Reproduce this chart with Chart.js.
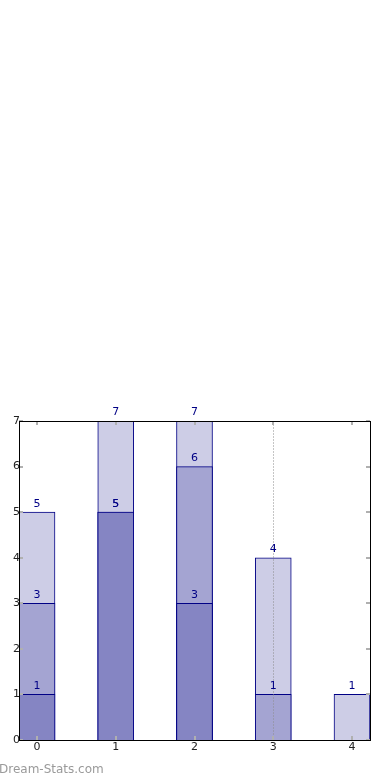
<!DOCTYPE html>
<html>
<head>
<meta charset="utf-8">
<script src="https://cdn.jsdelivr.net/npm/chart.js@4/dist/chart.umd.min.js"></script>
<style>
  body { margin: 0; background: #fff; }
  #wrap { position: relative; width: 390px; height: 780px; }
  #watermark {
    position: absolute; left: -1px; top: 762px;
    font-family: "DejaVu Sans", sans-serif; font-size: 12px;
    color: #9a9a9a;
  }
</style>
</head>
<body>
<div id="wrap">
  <canvas id="myChart" width="390" height="780"></canvas>
  <div id="watermark">Dream-Stats.com</div>
</div>
<script>
const categories = [0, 1, 2, 3, 4];
const lightValues = [5, 7, 7, 4, 1];
const mediumValues = [3, 5, 6, 1, null];
const darkValues = [1, 5, 3, null, null];
const yTicks = [0, 1, 2, 3, 4, 5, 6, 7];

const toPoints = (arr) => categories.map((c, i) => ({ x: c, y: arr[i] }));

const navy = "#000085";

// value labels above each bar
const barLabels = {
  id: "barLabels",
  afterDatasetsDraw(chart) {
    const ctx = chart.ctx;
    ctx.save();
    ctx.font = "11px 'DejaVu Sans'";
    ctx.fillStyle = navy;
    ctx.textAlign = "center";
    ctx.textBaseline = "bottom";
    chart.data.datasets.forEach((ds, di) => {
      const meta = chart.getDatasetMeta(di);
      meta.data.forEach((bar, i) => {
        const v = ds.data[i].y;
        if (v === null) return;
        ctx.fillText(String(v), bar.x, bar.y - 3);
      });
    });
    ctx.restore();
  },
};

// frame, inner tick marks and the dotted line at 3
const frame = {
  id: "frame",
  afterDatasetsDraw(chart) {
    const { ctx, chartArea: a, scales } = chart;
    ctx.save();
    const xs = scales.x;
    const ys = scales.y;
    ctx.strokeStyle = "rgba(140,140,140,0.5)";
    ctx.lineWidth = 1;
    ctx.setLineDash([2, 1]);
    const px3 = Math.round(xs.getPixelForValue(3)) + 0.5;
    ctx.beginPath();
    ctx.moveTo(px3, a.top);
    ctx.lineTo(px3, a.bottom);
    ctx.stroke();
    ctx.setLineDash([]);

    ctx.strokeStyle = "#b0b0b0";
    ctx.lineWidth = 2;
    ctx.beginPath();
    yTicks.forEach((v) => {
      const py = Math.round(ys.getPixelForValue(v));
      ctx.moveTo(a.left, py);
      ctx.lineTo(a.left + 4, py);
      ctx.moveTo(a.right, py);
      ctx.lineTo(a.right - 4, py);
    });
    categories.forEach((c) => {
      const px = Math.round(xs.getPixelForValue(c));
      ctx.moveTo(px, a.top);
      ctx.lineTo(px, a.top + 4);
      ctx.moveTo(px, a.bottom);
      ctx.lineTo(px, a.bottom - 4);
    });
    ctx.stroke();

    ctx.strokeStyle = "#000";
    ctx.lineWidth = 1;
    ctx.strokeRect(
      Math.round(a.left) + 0.5,
      Math.round(a.top) + 0.5,
      Math.round(a.right - a.left),
      Math.round(a.bottom - a.top)
    );
    ctx.restore();
  },
};

const ctx = document.getElementById("myChart");
const myChart = new Chart(ctx, {
  type: "bar",
  data: {
    datasets: [
      {
        label: "dark",
        data: toPoints(darkValues),
        backgroundColor: "#8585c3",
        borderColor: navy,
        borderWidth: 1,
      },
      {
        label: "medium",
        data: toPoints(mediumValues),
        backgroundColor: "#a4a4d2",
        borderColor: navy,
        borderWidth: 1,
      },
      {
        label: "light",
        data: toPoints(lightValues),
        backgroundColor: "#cdcde6",
        borderColor: navy,
        borderWidth: 1,
      },
    ],
  },
  options: {
    responsive: false,
    animation: false,
    grouped: false,
    barThickness: 36,
    layout: { padding: { top: 421, right: 20, left: 0, bottom: 0 } },
    plugins: { legend: { display: false }, tooltip: { enabled: false } },
    scales: {
      x: {
        type: "linear",
        offset: false,
        min: -0.2286,
        max: 4.2286,
        afterBuildTicks: (scale) => {
          scale.ticks = categories.map((c) => ({ value: c }));
        },
        afterFit: (scale) => {
          scale.height = 40;
        },
        grid: { display: false, drawTicks: false },
        border: { display: false },
        ticks: {
          padding: 1,
          color: "#222",
          font: { family: "DejaVu Sans", size: 11 },
        },
      },
      y: {
        min: 0,
        max: 7,
        afterBuildTicks: (scale) => {
          scale.ticks = yTicks.map((v) => ({ value: v }));
        },
        afterFit: (scale) => {
          scale.width = 19;
        },
        grid: { display: false, drawTicks: false },
        border: { display: false },
        ticks: {
          padding: -1,
          color: "#222",
          font: { family: "DejaVu Sans", size: 11 },
        },
      },
    },
  },
  plugins: [frame, barLabels],
});
</script>
</body>
</html>
